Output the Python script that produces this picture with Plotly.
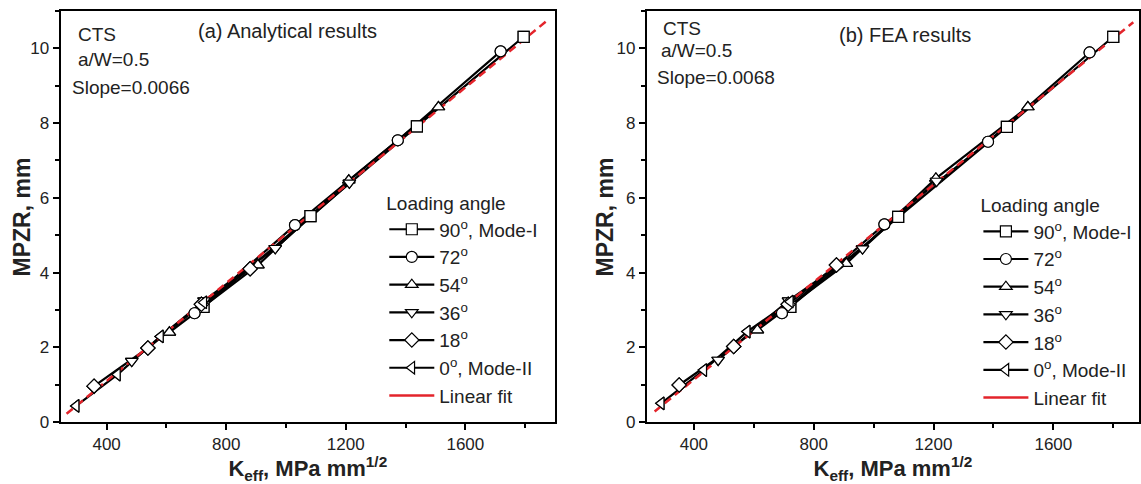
import plotly.graph_objects as go

# legend labels, one per loading angle
angle_labels = ["90<sup>o</sup>, Mode-I", "72<sup>o</sup>", "54<sup>o</sup>",
                "36<sup>o</sup>", "18<sup>o</sup>", "0<sup>o</sup>, Mode-II"]

# (a) analytical results, one row per loading angle (90, 72, 54, 36, 18, 0 deg)
keff_analytical = [
    [724, 1082, 1438, 1795],
    [694, 1030, 1374, 1718],
    [610, 906, 1210, 1510],
    [484, 726, 964, 1212],
    [358, 538, 717, 880],
    [298, 436, 580, 725],
]
mpzr_analytical = [
    [3.08, 5.51, 7.91, 10.31],
    [2.91, 5.27, 7.54, 9.92],
    [2.40, 4.20, 6.47, 8.43],
    [1.63, 3.25, 4.65, 6.40],
    [0.96, 1.98, 3.15, 4.10],
    [0.43, 1.27, 2.29, 3.20],
]
fit_keff_analytical = [266, 1870]
fit_mpzr_analytical = [0.22, 10.72]

# (b) FEA results
keff_fea = [
    [722, 1082, 1445, 1800],
    [694, 1036, 1382, 1721],
    [612, 909, 1208, 1515],
    [481, 716, 963, 1210],
    [351, 533, 715, 876],
    [291, 433, 578, 722],
]
mpzr_fea = [
    [3.08, 5.49, 7.90, 10.31],
    [2.91, 5.29, 7.50, 9.89],
    [2.46, 4.24, 6.52, 8.43],
    [1.66, 3.25, 4.64, 6.45],
    [0.99, 2.02, 3.15, 4.20],
    [0.50, 1.39, 2.42, 3.22],
]
fit_keff_fea = [269, 1867]
fit_mpzr_fea = [0.28, 10.70]

symbols = ["square", "circle", "triangle-up", "triangle-down", "diamond", "triangle-left"]
RED = "#e3242b"
FONT = "Liberation Sans, Arial, sans-serif"

fig = go.Figure()


def add_panel(keff, mpzr, fit_k, fit_m, xa, ya, legend):
    marker_style = lambda s: dict(symbol=s, size=11, color="white",
                                  line=dict(color="black", width=1.2))
    for label, sym, k, m in zip(angle_labels, symbols, keff, mpzr):
        fig.add_trace(go.Scatter(x=k, y=m, mode="lines+markers", name=label,
                                 line=dict(color="black", width=2.2),
                                 marker=marker_style(sym),
                                 xaxis=xa, yaxis=ya, legend=legend))
    fig.add_trace(go.Scatter(x=fit_k, y=fit_m, mode="lines", showlegend=False,
                             line=dict(color=RED, width=2.5, dash="8px,5px"),
                             xaxis=xa, yaxis=ya))
    # put the markers back above the red fit line
    for sym, k, m in zip(symbols, keff, mpzr):
        fig.add_trace(go.Scatter(x=k, y=m, mode="markers", showlegend=False,
                                 marker=marker_style(sym), hoverinfo="skip",
                                 xaxis=xa, yaxis=ya))
    # legend entry for the fit (solid, as in the original legend)
    fig.add_trace(go.Scatter(x=[None], y=[None], mode="lines", name="Linear fit",
                             line=dict(color=RED, width=2.5),
                             xaxis=xa, yaxis=ya, legend=legend))


add_panel(keff_analytical, mpzr_analytical, fit_keff_analytical, fit_mpzr_analytical,
          "x", "y", "legend")
add_panel(keff_fea, mpzr_fea, fit_keff_fea, fit_mpzr_fea, "x2", "y2", "legend2")

axis_common = dict(
    showline=True, linecolor="black", linewidth=2, mirror=True,
    ticks="outside", ticklen=6, tickwidth=1.5, tickcolor="black",
    tickfont=dict(size=17, color="#222"),
    showgrid=False, zeroline=False,
)
x_title = "<b>K<sub>eff</sub>, MPa mm<sup>1/2</sup></b>"
y_title = "<b>MPZR, mm</b>"

xaxis_common = dict(axis_common, tick0=0, dtick=400,
                    minor=dict(ticks="outside", ticklen=4, tickwidth=1.5,
                               tickcolor="black", dtick=200, tick0=0),
                    title=dict(text=x_title, font=dict(size=22, color="#222"), standoff=3))
yaxis_common = dict(axis_common, range=[0, 11], tick0=0, dtick=2,
                    minor=dict(ticks="outside", ticklen=4, tickwidth=1.5,
                               tickcolor="black", dtick=1, tick0=0))

legend_common = dict(xanchor="left", yanchor="top", bgcolor="rgba(0,0,0,0)",
                     font=dict(size=19, color="#222"), itemwidth=45,
                     title=dict(text="Loading angle", font=dict(size=19, color="#222")),
                     tracegroupgap=0)

annotations = []
for txt, x, y, size in [("CTS", 0.0670, 0.943, 19), ("a/W=0.5", 0.0670, 0.8808, 19),
                        ("Slope=0.0066", 0.0613, 0.8127, 19),
                        ("(a) Analytical results", 0.1718, 0.9513, 20),
                        ("CTS", 0.5802, 0.9586, 19), ("a/W=0.5", 0.5784, 0.9027, 19),
                        ("Slope=0.0068", 0.575, 0.837, 19),
                        ("(b) FEA results", 0.7345, 0.9423, 20)]:
    annotations.append(dict(text=txt, x=x, y=y, xref="paper", yref="paper",
                            xanchor="left", yanchor="middle", showarrow=False,
                            font=dict(size=size, color="#222")))

# y-axis titles sit closer to the tick labels than plotly's standoff allows
for x in [22 / 1141, 606 / 1141]:
    annotations.append(dict(text=y_title, x=x, y=0.5, xref="paper", yref="paper",
                            xanchor="center", yanchor="middle", textangle=-90,
                            showarrow=False, font=dict(size=23, color="#222")))

fig.update_layout(
    width=1141, height=484,
    margin=dict(l=0, r=0, t=11, b=62),
    paper_bgcolor="white", plot_bgcolor="white",
    font=dict(family=FONT, color="#222"),
    xaxis=dict(xaxis_common, domain=[0.0532, 0.4873], range=[246, 1900], anchor="y"),
    yaxis=dict(yaxis_common, domain=[0, 1], anchor="x"),
    xaxis2=dict(xaxis_common, domain=[0.5679, 1.0], range=[243, 1886], anchor="y2"),
    yaxis2=dict(yaxis_common, domain=[0, 1], anchor="x2"),
    legend=dict(legend_common, x=0.3374, y=0.575),
    legend2=dict(legend_common, x=0.859, y=0.570),
    annotations=annotations,
    showlegend=True,
)

# the page body has a default 8px margin; drop it so the figure sits at the corner
fig.write_html("out.html", config={"displayModeBar": False},
               post_script="document.body.style.margin = '0';")
